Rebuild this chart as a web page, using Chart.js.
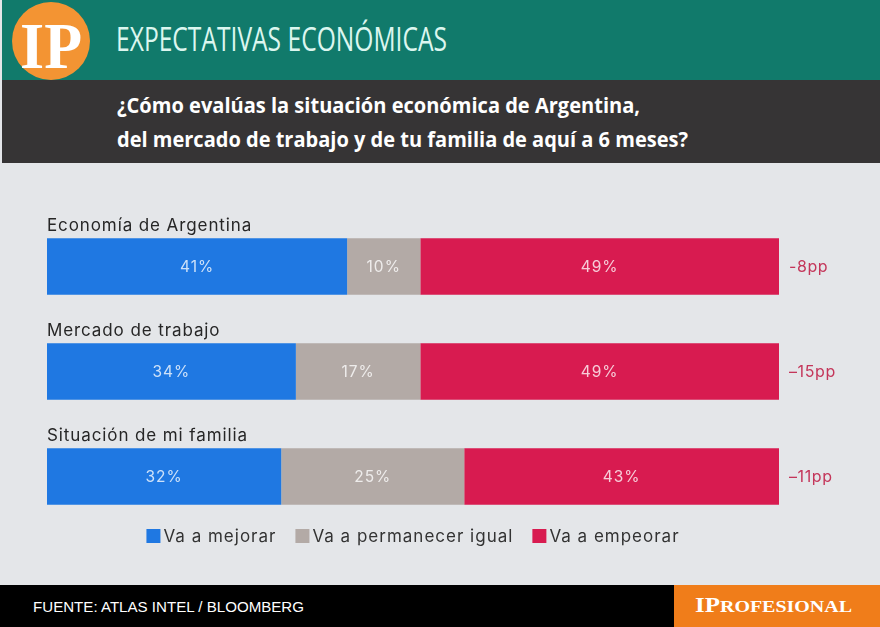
<!DOCTYPE html>
<html>
  <head>
    <title>Expectativas económicas</title>
    <script src="https://cdn.jsdelivr.net/npm/chart.js@4.4.1/dist/chart.umd.min.js"></script>
    <style>
      html, body { margin: 0; padding: 0; }
      body { width: 880px; height: 627px; position: relative; overflow: hidden; background: #e4e6e9; }
      .band { position: absolute; left: 2px; right: 0; }
      .fit { position: absolute; white-space: nowrap; line-height: 1; transform-origin: 0 0; display: inline-block; }
      #head { top: 0; height: 80px; background: #117a6b; }
      #sub { top: 80px; height: 83px; background: #363435; }
      #logo { position: absolute; left: 12px; top: 2px; width: 78px; height: 78px; border-radius: 50%; background: #f39433; }
      #foot { top: 585px; height: 42px; left: 0; background: #000; }
      #brand { position: absolute; left: 674px; top: 585px; width: 206px; height: 42px; background: #f07d1a; }
      #chart { position: absolute; left: 0; top: 163px; }
    </style>
  </head>

  <body>
    <div class="band" id="head"></div>
    <div class="band" id="sub"></div>
    <div id="logo"></div>
    <div class="fit" data-w="62" style="left:20px;top:9px;font:bold 65px 'Liberation Serif';color:#fff;">IP</div>
    <div class="fit" data-w="331" style="left:116px;top:17px;font:400 32px 'Open Sans';color:#dcf6ef;">EXPECTATIVAS ECONÓMICAS</div>
    <div class="fit" data-w="523" style="left:117px;top:89px;font:bold 22px 'Open Sans';color:#fff;">¿Cómo evalúas la situación económica de Argentina,</div>
    <div class="fit" data-w="571" style="left:117px;top:123px;font:bold 22px 'Open Sans';color:#fff;">del mercado de trabajo y de tu familia de aquí a 6 meses?</div>

    <canvas id="chart" width="880" height="422"></canvas>

    <div class="band" id="foot"></div>
    <div id="brand"></div>
    <div class="fit" data-w="271" style="left:33px;top:599px;font:14px 'Liberation Sans';color:#fff;">FUENTE: ATLAS INTEL / BLOOMBERG</div>
    <div class="fit" data-w="157" style="left:695px;top:594px;font:bold 20px 'Liberation Serif';color:#fff;">IP<span style="font-size:16px">ROFESIONAL</span></div>

    <script>
      // survey answers, percent of respondents
      const categories = ['Economía de Argentina', 'Mercado de trabajo', 'Situación de mi familia'];
      const seriesNames = ['Va a mejorar', 'Va a permanecer igual', 'Va a empeorar'];
      const mejorar = [41, 34, 32];
      const igual = [10, 17, 25];
      const empeorar = [49, 49, 43];
      // balance mejorar - empeorar, as printed
      const balance = ['-8pp', '–15pp', '–11pp'];
      const colors = ['#1f78e2', '#b3aaa6', '#d81b50'];

      const FONT = "'Inter', 'Noto Sans', sans-serif";

      const labelsPlugin = {
        id: 'labels',
        afterDatasetsDraw(chart) {
          const ctx = chart.ctx;
          const y = chart.scales.y;
          const area = chart.chartArea;
          ctx.save();
          categories.forEach((cat, i) => {
            const bar = chart.getDatasetMeta(0).data[i];
            const yc = y.getPixelForValue(i);
            const top = yc - bar.height / 2;
            // category name above the bar
            ctx.font = '17px ' + FONT;
            ctx.letterSpacing = '0.9px';
            ctx.fillStyle = '#262626';
            ctx.textAlign = 'left';
            ctx.textBaseline = 'alphabetic';
            ctx.fillText(cat, area.left, top - 7);
            // values inside segments
            ctx.font = '15.5px ' + FONT;
            ctx.letterSpacing = '1px';
            ctx.textAlign = 'center';
            ctx.textBaseline = 'middle';
            chart.data.datasets.forEach((ds, d) => {
              const el = chart.getDatasetMeta(d).data[i];
              ctx.fillStyle = 'rgba(255,255,255,0.78)';
              ctx.fillText(ds.data[i] + '%', (el.base + el.x) / 2, yc + 1);
            });
            // balance on the right
            ctx.font = '16px ' + FONT;
            ctx.letterSpacing = '0.6px';
            ctx.fillStyle = '#c4365a';
            ctx.textAlign = 'left';
            ctx.fillText(balance[i], area.right + 10, yc + 1);
          });

          // legend
          ctx.font = '17px ' + FONT;
          ctx.letterSpacing = '1px';
          ctx.textBaseline = 'middle';
          const box = 14, gap = 3, sep = 19;
          const widths = seriesNames.map(n => box + gap + ctx.measureText(n).width);
          const total = widths.reduce((a, b) => a + b, 0) + sep * (widths.length - 1);
          let x = (area.left + area.right) / 2 - total / 2;
          const ly = 373;
          chart.data.datasets.forEach((ds, d) => {
            ctx.fillStyle = ds.backgroundColor;
            ctx.fillRect(x, ly - box / 2, box, box);
            ctx.fillStyle = '#333';
            ctx.textAlign = 'left';
            ctx.fillText(ds.label, x + box + gap, ly + 1);
            x += widths[d] + sep;
          });
          ctx.restore();
        }
      };

      const ctx = document.getElementById('chart').getContext('2d');
      new Chart(ctx, {
        type: 'bar',
        data: {
          labels: categories,
          datasets: [mejorar, igual, empeorar].map((vals, d) => ({
            label: seriesNames[d],
            data: vals,
            backgroundColor: colors[d],
            borderWidth: 0,
            categoryPercentage: 1,
            barPercentage: 0.54
          }))
        },
        options: {
          indexAxis: 'y',
          responsive: false,
          animation: false,
          layout: { padding: { top: 51, bottom: 56, left: 47, right: 101 } },
          plugins: { legend: { display: false }, tooltip: { enabled: false } },
          scales: {
            x: { stacked: true, min: 0, max: 100, display: false },
            y: { stacked: true, display: false }
          }
        },
        plugins: [labelsPlugin]
      });

      function fitAll() {
        document.querySelectorAll('.fit').forEach(el => {
          el.style.transform = 'none';
          const w = el.getBoundingClientRect().width;
          el.style.transform = 'scaleX(' + (+el.dataset.w / w) + ')';
        });
      }
      fitAll();
      if (document.fonts) document.fonts.ready.then(fitAll);
    </script>
  </body>
</html>
